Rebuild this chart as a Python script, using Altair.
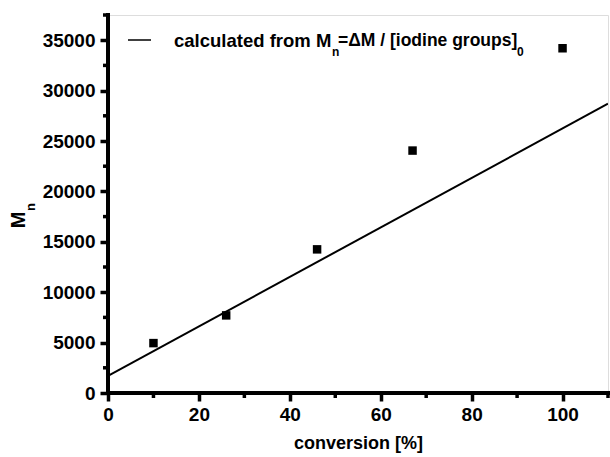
import altair as alt
import pandas as pd

# ---- data ----
conversion = [10, 26, 46, 67, 100]
mn_measured = [4950, 7700, 14250, 24050, 34200]
calc_conversion = [0, 110]
calc_mn = [1700, 28700]

x_major = [0, 20, 40, 60, 80, 100]
x_minor = [10, 30, 50, 70, 90, 110]
y_major = [0, 5000, 10000, 15000, 20000, 25000, 30000, 35000]
y_minor = [2500, 7500, 12500, 17500, 22500, 27500, 32500, 37500]
x_range = [0, 110]
y_range = [0, 37500]

pts = pd.DataFrame({"conversion": conversion, "Mn": mn_measured})
calc = pd.DataFrame({"conversion": calc_conversion, "Mn": calc_mn})
one = pd.DataFrame({"k": [0]})

FONT = "Liberation Sans"
W, H = 500, 378

xs = alt.Scale(domain=x_range, nice=False, zero=False)
ys = alt.Scale(domain=y_range, nice=False)

common_axis = dict(
    domain=False, ticks=True, tickColor="black", tickWidth=3.5, tickSize=8,
    labelFont=FONT, labelFontSize=19, labelFontWeight="bold", labelColor="black",
    labelFlush=False, labelOverlap=False,
    grid=False, titleFont=FONT, titleFontWeight="bold", titleColor="black",
)

x_main = alt.Axis(values=x_major, format="d", labelPadding=4,
                  title="conversion [%]", titleFontSize=18, titlePadding=10,
                  orient="bottom", **common_axis)
y_main = alt.Axis(values=y_major, format="d", labelPadding=5,
                  title=None, orient="left", **common_axis)

line = alt.Chart(calc).mark_line(color="black", strokeWidth=2, clip=True).encode(
    x=alt.X("conversion:Q", scale=xs, axis=x_main),
    y=alt.Y("Mn:Q", scale=ys, axis=y_main),
)

points = alt.Chart(pts).mark_point(shape="square", filled=True, color="black",
                                   size=72, opacity=1).encode(
    x=alt.X("conversion:Q", scale=xs),
    y=alt.Y("Mn:Q", scale=ys),
)

# axis lines (drawn through the scales)
x_line = alt.Chart(pd.DataFrame({"x0": [x_range[0]], "x1": [x_range[1]], "y0": [y_range[0]]})).mark_rule(
    color="black", strokeWidth=4, strokeCap="square").encode(
    x=alt.X("x0:Q", scale=xs), x2="x1:Q", y=alt.Y("y0:Q", scale=ys))
y_line = alt.Chart(pd.DataFrame({"y0": [y_range[0]], "y1": [y_range[1]], "x0": [x_range[0]]})).mark_rule(
    color="black", strokeWidth=4, strokeCap="square").encode(
    y=alt.Y("y0:Q", scale=ys), y2="y1:Q", x=alt.X("x0:Q", scale=xs))

# minor ticks
x_minor_ticks = alt.Chart(pd.DataFrame({"v": x_minor})).mark_rule(color="black", strokeWidth=3.5).encode(
    x=alt.X("v:Q", scale=xs), y=alt.value(H), y2=alt.value(H + 5))
y_minor_ticks = alt.Chart(pd.DataFrame({"v": y_minor})).mark_rule(color="black", strokeWidth=3.5).encode(
    y=alt.Y("v:Q", scale=ys), x=alt.value(0), x2=alt.value(-5))

base_txt = dict(font=FONT, fontWeight="bold", color="black", baseline="middle", align="left")

leg_line = alt.Chart(one).mark_rule(color="black", strokeWidth=1.5).encode(
    x=alt.value(20), x2=alt.value(43), y=alt.value(25)
)
t1 = alt.Chart(one).mark_text(fontSize=18.5, text="calculated from M", **base_txt).encode(
    x=alt.value(66), y=alt.value(26))
t2 = alt.Chart(one).mark_text(fontSize=12, text="n", **base_txt).encode(
    x=alt.value(224), y=alt.value(37))
t3 = alt.Chart(one).mark_text(fontSize=17.5, text="=ΔM / [iodine groups]", **base_txt).encode(
    x=alt.value(230), y=alt.value(26))
t4 = alt.Chart(one).mark_text(fontSize=12, text="0", **base_txt).encode(
    x=alt.value(409), y=alt.value(37))

ytitle_m = alt.Chart(one).mark_text(fontSize=20, text="M", angle=270, font=FONT,
                                    fontWeight="bold", color="black", baseline="middle",
                                    align="center").encode(
    x=alt.value(-89), y=alt.value(205))
ytitle_n = alt.Chart(one).mark_text(fontSize=13, text="n", angle=270, font=FONT,
                                    fontWeight="bold", color="black", baseline="middle",
                                    align="center").encode(
    x=alt.value(-77.5), y=alt.value(192))

chart = alt.layer(
    line, points, x_line, y_line, x_minor_ticks, y_minor_ticks,
    leg_line, t1, t2, t3, t4, ytitle_m, ytitle_n
).properties(
    width=W, height=H,
    autosize=alt.AutoSizeParams(type="none"),
    padding={"left": 108, "top": 15, "right": 2, "bottom": 64},
).configure_view(stroke=None).configure(background="white")

chart.save("out.html", embed_options={"renderer": "svg", "actions": False})
